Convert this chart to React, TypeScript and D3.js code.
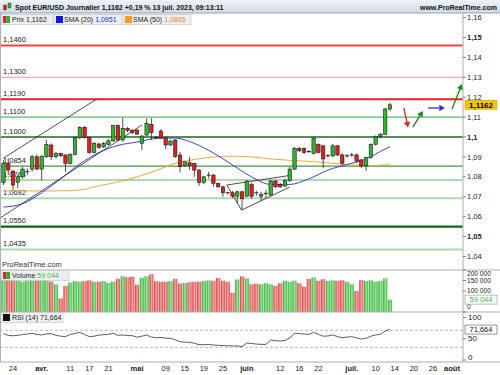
import { useEffect, useRef } from 'react'
import * as d3 from 'd3'

// candle data, index -2 = 22 mars ... 79 = 13 juil.
const firstIndex = -2
const opens = [1.0772, 1.0868, 1.0829, 1.0773, 1.0800, 1.0824, 1.0839, 1.0901, 1.0839, 1.0901, 1.0960, 1.0901, 1.0918, 1.0910, 1.0868, 1.0913, 1.0997, 1.1049, 1.0997, 1.0923, 1.0965, 1.0950, 1.0963, 1.0981, 1.1057, 1.0985, 1.1044, 1.1034, 1.1035, 1.0968, 1.1010, 1.1064, 1.1000, 1.1030, 1.0997, 1.0960, 1.0985, 1.0910, 1.0856, 1.0871, 1.0868, 1.0834, 1.0772, 1.0807, 1.0809, 1.0767, 1.0750, 1.0721, 1.0720, 1.0703, 1.0725, 1.0703, 1.0762, 1.0721, 1.0703, 1.0716, 1.0709, 1.0779, 1.0762, 1.0754, 1.0781, 1.0839, 1.0943, 1.0943, 1.0928, 1.0918, 1.0963, 1.0956, 1.0905, 1.0905, 1.0956, 1.0910, 1.0905, 1.0909, 1.0910, 1.0885, 1.0855, 1.0897, 1.0963, 1.1002, 1.1014, 1.1141]
const highs = [1.0884, 1.0894, 1.0834, 1.0809, 1.0849, 1.0843, 1.0910, 1.0913, 1.0908, 1.0985, 1.0968, 1.0926, 1.0921, 1.0913, 1.0918, 1.1002, 1.1055, 1.1055, 1.1002, 1.0975, 1.0972, 1.0975, 1.0990, 1.1062, 1.1064, 1.1097, 1.1050, 1.1040, 1.1040, 1.1010, 1.1094, 1.1094, 1.1005, 1.1040, 1.1002, 1.0985, 1.0990, 1.0925, 1.0880, 1.0900, 1.0871, 1.0840, 1.0805, 1.0825, 1.0815, 1.0770, 1.0755, 1.0725, 1.0730, 1.0730, 1.0730, 1.0785, 1.0770, 1.0730, 1.0725, 1.0734, 1.0785, 1.0785, 1.0770, 1.0790, 1.0850, 1.0950, 1.0950, 1.0948, 1.0935, 1.1002, 1.0968, 1.0960, 1.0915, 1.0965, 1.0960, 1.0920, 1.0915, 1.0920, 1.0918, 1.0890, 1.0900, 1.0968, 1.1008, 1.1020, 1.1145, 1.1172]
const lows = [1.0759, 1.0809, 1.0734, 1.0744, 1.0790, 1.0809, 1.0826, 1.0834, 1.0784, 1.0895, 1.0885, 1.0893, 1.0900, 1.0826, 1.0863, 1.0908, 1.0990, 1.0992, 1.0915, 1.0918, 1.0940, 1.0945, 1.0958, 1.0975, 1.0980, 1.0978, 1.1025, 1.1015, 1.1010, 1.0935, 1.1005, 1.0985, 1.0990, 1.0990, 1.0940, 1.0955, 1.0895, 1.0822, 1.0850, 1.0834, 1.0800, 1.0755, 1.0765, 1.0792, 1.0750, 1.0745, 1.0700, 1.0712, 1.0695, 1.0667, 1.0634, 1.0700, 1.0690, 1.0705, 1.0680, 1.0695, 1.0705, 1.0745, 1.0745, 1.0748, 1.0775, 1.0835, 1.0925, 1.0915, 1.0920, 1.0912, 1.0918, 1.0843, 1.0898, 1.0900, 1.0905, 1.0860, 1.0895, 1.0900, 1.0870, 1.0845, 1.0830, 1.0892, 1.0958, 1.0995, 1.1010, 1.1130]
const closes = [1.0868, 1.0834, 1.0759, 1.0800, 1.0839, 1.0828, 1.0901, 1.0839, 1.0904, 1.0963, 1.0901, 1.0918, 1.0906, 1.0868, 1.0913, 1.0997, 1.1049, 1.0997, 1.0923, 1.0968, 1.0948, 1.0968, 1.0981, 1.1057, 1.0985, 1.1044, 1.1033, 1.1022, 1.1015, 1.1005, 1.1069, 1.1022, 1.0996, 1.0997, 1.0960, 1.0980, 1.0902, 1.0851, 1.0876, 1.0856, 1.0834, 1.0772, 1.0800, 1.0810, 1.0767, 1.0750, 1.0720, 1.0719, 1.0703, 1.0725, 1.0690, 1.0778, 1.0703, 1.0719, 1.0712, 1.0718, 1.0779, 1.0750, 1.0750, 1.0783, 1.0839, 1.0943, 1.0931, 1.0923, 1.0926, 1.0994, 1.0923, 1.0890, 1.0907, 1.0956, 1.0910, 1.0868, 1.0907, 1.0911, 1.0880, 1.0855, 1.0897, 1.0963, 1.1002, 1.1014, 1.1141, 1.1162]
const volumes = [165000, 160000, 170000, 150000, 145000, 150000, 155000, 150000, 150000, 160000, 145000, 132000, 65000, 125000, 140000, 147000, 144000, 147000, 151000, 144000, 144000, 147000, 138000, 144000, 158000, 170000, 166000, 168000, 130000, 163000, 170000, 180000, 147000, 144000, 144000, 147000, 158000, 136000, 138000, 142000, 144000, 144000, 147000, 151000, 149000, 162000, 149000, 144000, 92000, 155000, 170000, 160000, 132000, 135000, 132000, 137000, 132000, 125000, 137000, 149000, 144000, 149000, 137000, 121000, 157000, 165000, 149000, 156000, 148000, 151000, 149000, 151000, 144000, 132000, 100000, 152000, 148000, 151000, 144000, 148000, 160000, 59044]
const rsi = [62, 58, 57, 58, 60, 61, 62.5, 60, 59, 61.5, 62, 58, 56, 55, 60, 62.5, 65, 60, 55, 56, 58.5, 59.5, 60.4, 62.7, 58, 58.8, 57.5, 57.2, 53.5, 56, 58.8, 54, 52.5, 53, 51.5, 51, 47.5, 43, 42, 41.5, 39.5, 36, 36, 36.5, 35.3, 34.5, 34, 33.5, 33, 33.2, 31.4, 40, 39, 37.5, 36.8, 36.8, 47, 45.5, 44.7, 46, 52, 62.7, 62, 61.2, 60.4, 65, 60.4, 56, 56.5, 58.8, 55, 52.5, 54, 54.9, 52, 49.4, 51, 56, 59, 60.4, 68.2, 71.664]

// moving averages at sample candles
const smaIndex = [-2, 2, 6, 10, 14, 18, 22, 26, 30, 34, 38, 42, 46, 50, 54, 58, 62, 66, 70, 74, 78, 79]
const sma20 = [1.0648, 1.0665, 1.0720, 1.0790, 1.0865, 1.0922, 1.0958, 1.0975, 1.0993, 1.0995, 1.0968, 1.0920, 1.0860, 1.0800, 1.0762, 1.0762, 1.0790, 1.0834, 1.0862, 1.0890, 1.0940, 1.0951]
const sma50 = [1.0729, 1.0729, 1.0729, 1.0730, 1.0734, 1.0755, 1.0775, 1.0800, 1.0832, 1.0868, 1.0887, 1.0900, 1.0904, 1.0900, 1.0890, 1.0883, 1.0878, 1.0870, 1.0862, 1.0856, 1.0860, 1.0865]

// horizontal levels
const levels = [1.146, 1.13, 1.119, 1.11, 1.1, 1.0854, 1.0784, 1.0692, 1.055, 1.0435]
const levelLabels = ['1,1460', '1,1300', '1,1190', '1,1100', '1,1000', '1,0854', '1,0784', '1,0692', '1,0550', '1,0435']
const levelColors = ['#ff3a3a', '#ff9a9a', '#ee1f1f', '#62b862', '#1c6a1c', '#32a532', '#acdbac', '#acdbac', '#0c6a0c', '#acdbac']
const levelWidths = [2, 1, 2, 1.2, 1.5, 1.2, 2, 2, 2.2, 2]

// drawn trend lines [index, price]
const trendLines = [
  [[-2, 1.0894], [17.5, 1.1190]],
  [[-2.7, 1.0593], [27, 1.1060]],
  [[44.8, 1.0759], [58, 1.0807]],
  [[44.8, 1.0759], [47.9, 1.0633]],
  [[47.9, 1.0633], [58, 1.0749]],
]
// arrows [start, end], [index, price]
const arrows = [
  [[81.9, 1.1146], [82.8, 1.1048]],
  [[83.8, 1.1050], [85.9, 1.1131]],
  [[87.0, 1.1146], [90.5, 1.1146]],
  [[92.0, 1.1141], [94.1, 1.1266]],
]
const arrowColors = ['#f01c1c', '#128a12', '#2a2af0', '#128a12']

const priceTicks = [1.16, 1.15, 1.14, 1.13, 1.12, 1.11, 1.1, 1.09, 1.08, 1.07, 1.06, 1.05, 1.04]
const volTicks = [200000, 150000, 100000, 0]
const rsiTicks = [100, 50, 0]
const dateIndex = [0, 6, 12, 16, 20, 26, 32, 36, 40, 44, 49, 56, 60, 64, 71, 76, 80, 84, 88, 92]
const dateLabels = ['24', 'avr.', '11', '17', '21', 'mai', '09', '15', '19', '25', 'juin', '12', '16', '22', 'juil.', '10', '14', '20', '26', 'août']
const monthLabels = ['avr.', 'mai', 'juin', 'juil.', 'août']

const W = 500
const H = 375
const AXIS_X = 463
const FONT = 'Liberation Sans, Arial, sans-serif'

const fmt = (v: number, d: number) => v.toFixed(d).replace('.', ',')
const fmtVol = (v: number) => d3.format(',')(v).replace(/,/g, ' ')

function App() {
  const ref = useRef<SVGSVGElement>(null)

  useEffect(() => {
    const svg = d3.select(ref.current)
    svg.selectAll('*').remove()

    const x = d3.scaleLinear().domain([0, 92]).range([13, 452])
    const y = d3.scaleLinear().domain([1.04, 1.15]).range([256.5, 37.5])
    const yVol = d3.scaleLinear().domain([0, 200000]).range([312, 270])
    const yRsi = d3.scaleLinear().domain([0, 100]).range([360, 317.5])

    const defs = svg.append('defs')
    const grad = (id: string, stops: string[], vertical = false) => {
      const g = defs.append('linearGradient').attr('id', id)
        .attr('x1', 0).attr('y1', 0).attr('x2', vertical ? 0 : 1).attr('y2', vertical ? 1 : 0)
      stops.forEach((c, i) => g.append('stop').attr('offset', i / (stops.length - 1)).attr('stop-color', c))
    }
    grad('vg', ['#2aa92a', '#9fe29f', '#3dbd3d'])
    grad('vr', ['#d43838', '#f5a5a5', '#e04a4a'])
    grad('title', ['#eef3f7', '#cfdae4'], true)
    defs.append('clipPath').attr('id', 'main')
      .append('rect').attr('x', 0).attr('y', 13).attr('width', AXIS_X).attr('height', 257)

    svg.append('rect').attr('width', W).attr('height', H).attr('fill', '#fff')

    const main = svg.append('g').attr('clip-path', 'url(#main)')

    // levels
    levels.forEach((lv, i) => {
      main.append('line')
        .attr('x1', 0).attr('x2', AXIS_X)
        .attr('y1', y(lv)).attr('y2', y(lv))
        .attr('stroke', levelColors[i]).attr('stroke-width', levelWidths[i])
      main.append('text')
        .attr('x', 3).attr('y', y(lv) - 3.5)
        .text(levelLabels[i])
        .style('font-family', FONT).style('font-size', '7.5px').style('fill', '#222')
    })

    // moving averages
    const line = d3.line<[number, number]>()
      .x(d => x(d[0])).y(d => y(d[1])).curve(d3.curveMonotoneX)
    main.append('path')
      .datum(smaIndex.map((k, i) => [k, sma50[i]] as [number, number]))
      .attr('d', line).attr('fill', 'none').attr('stroke', '#ffa42e').attr('stroke-width', 1)
    main.append('path')
      .datum(smaIndex.map((k, i) => [k, sma20[i]] as [number, number]))
      .attr('d', line).attr('fill', 'none').attr('stroke', '#3c3cf0').attr('stroke-width', 1)

    // trend lines
    trendLines.forEach(seg => {
      main.append('line')
        .attr('x1', x(seg[0][0])).attr('y1', y(seg[0][1]))
        .attr('x2', x(seg[1][0])).attr('y2', y(seg[1][1]))
        .attr('stroke', '#222').attr('stroke-width', 0.8)
    })

    // candles
    const bw = 3.4
    opens.forEach((o, i) => {
      const k = i + firstIndex
      const c = closes[i]
      const cx = x(k)
      main.append('line')
        .attr('x1', cx).attr('x2', cx)
        .attr('y1', y(highs[i])).attr('y2', y(lows[i]))
        .attr('stroke', '#222').attr('stroke-width', 0.8)
      if (Math.abs(o - c) < 0.0005) {
        main.append('line')
          .attr('x1', cx - bw / 2 - 0.3).attr('x2', cx + bw / 2 + 0.3)
          .attr('y1', y((o + c) / 2)).attr('y2', y((o + c) / 2))
          .attr('stroke', '#222').attr('stroke-width', 1)
      } else {
        main.append('rect')
          .attr('x', cx - bw / 2).attr('width', bw)
          .attr('y', y(Math.max(o, c))).attr('height', Math.abs(y(o) - y(c)))
          .attr('fill', c > o ? '#2fb52f' : '#e21e1e')
          .attr('stroke', '#1e1e1e').attr('stroke-width', 0.6)
      }
    })

    // arrows
    arrows.forEach((a, i) => {
      const x1 = x(a[0][0]), y1 = y(a[0][1]), x2 = x(a[1][0]), y2 = y(a[1][1])
      const ang = Math.atan2(y2 - y1, x2 - x1)
      const hl = 5.5, hw = 3.2
      const bx = x2 - hl * Math.cos(ang), by = y2 - hl * Math.sin(ang)
      main.append('line')
        .attr('x1', x1).attr('y1', y1).attr('x2', bx).attr('y2', by)
        .attr('stroke', arrowColors[i]).attr('stroke-width', 1.3)
      main.append('path')
        .attr('d', `M${x2},${y2}L${bx + hw * Math.sin(ang)},${by - hw * Math.cos(ang)}L${bx - hw * Math.sin(ang)},${by + hw * Math.cos(ang)}Z`)
        .attr('fill', arrowColors[i])
    })

    main.append('text')
      .attr('x', 2).attr('y', 267)
      .text('ProRealTime.com')
      .style('font-family', FONT).style('font-size', '7.5px').style('fill', '#333')

    // volume
    volumes.forEach((v, i) => {
      const k = i + firstIndex
      svg.append('rect')
        .attr('x', x(k) - 2.1).attr('width', 4.2)
        .attr('y', yVol(v)).attr('height', yVol(0) - yVol(v))
        .attr('fill', closes[i] >= opens[i] ? 'url(#vg)' : 'url(#vr)')
    })

    // rsi
    ;[70, 30].forEach(l => {
      svg.append('line')
        .attr('x1', 0).attr('x2', AXIS_X).attr('y1', yRsi(l)).attr('y2', yRsi(l))
        .attr('stroke', '#999').attr('stroke-width', 0.7).attr('stroke-dasharray', '3,2')
    })
    svg.append('path')
      .datum(rsi.map((r, i) => [i + firstIndex, r] as [number, number]))
      .attr('d', d3.line<[number, number]>().x(d => x(d[0])).y(d => yRsi(d[1])))
      .attr('fill', 'none').attr('stroke', '#333').attr('stroke-width', 0.8)

    // panel frames
    const grid = '#a9b1b9'
    ;[270, 312, 362].forEach(py => {
      svg.append('line').attr('x1', 0).attr('x2', W).attr('y1', py).attr('y2', py)
        .attr('stroke', grid).attr('stroke-width', 1)
    })
    svg.append('line').attr('x1', AXIS_X).attr('x2', AXIS_X).attr('y1', 13).attr('y2', 362)
      .attr('stroke', grid).attr('stroke-width', 1)
    svg.append('line').attr('x1', 0.5).attr('x2', 0.5).attr('y1', 13).attr('y2', 362)
      .attr('stroke', grid).attr('stroke-width', 1)

    const label = (tx: number, ty: number, t: string, opts: any = {}) =>
      svg.append('text').attr('x', tx).attr('y', ty).text(t)
        .attr('text-anchor', opts.anchor || 'start')
        .style('font-family', FONT).style('font-size', (opts.size || 7) + 'px')
        .style('font-weight', opts.bold ? 'bold' : 'normal')
        .style('fill', opts.color || '#222')

    const tick = (ty: number) => svg.append('line')
      .attr('x1', AXIS_X).attr('x2', AXIS_X + 3).attr('y1', ty).attr('y2', ty)
      .attr('stroke', '#666').attr('stroke-width', 0.8)

    // price axis
    priceTicks.forEach(t => {
      const bold = Math.round(t * 100) % 5 === 0 && t !== 1.16
      const txt = Math.round(t * 100) % 10 === 0 ? fmt(t, 1) : fmt(t, 2)
      tick(y(t))
      label(AXIS_X + 4, y(t) + 2.6, txt, { bold, size: 7.5 })
    })

    // volume axis, labels pushed apart so they do not collide
    let prevY = -Infinity
    volTicks.forEach(t => {
      let ty = Math.min(Math.max(yVol(t), 273.5), 307)
      ty = Math.max(ty, prevY + 7.6)
      prevY = ty
      tick(yVol(t))
      label(AXIS_X + 4, ty + 2.3, fmtVol(t), { size: 6.6 })
    })
    // rsi axis
    rsiTicks.forEach(t => {
      const ty = Math.min(Math.max(yRsi(t), 317), 357.5)
      tick(yRsi(t))
      label(AXIS_X + 5, ty + 2.6, String(t), { size: 8 })
    })

    // value tags
    const lastClose = closes[closes.length - 1]
    svg.append('rect').attr('x', 465).attr('y', y(lastClose) - 4.5).attr('width', 32).attr('height', 9)
      .attr('fill', '#f8c400').attr('stroke', '#c99a00').attr('stroke-width', 0.5)
    label(481, y(lastClose) + 2.9, fmt(lastClose, 4), { bold: true, anchor: 'middle', size: 8, color: '#000' })

    const lastVol = volumes[volumes.length - 1]
    svg.append('rect').attr('x', 465).attr('y', yVol(lastVol) - 4.5).attr('width', 32).attr('height', 9)
      .attr('fill', '#fff').attr('stroke', '#8a9096').attr('stroke-width', 0.6)
    label(481, yVol(lastVol) + 2.6, fmtVol(lastVol), { anchor: 'middle', size: 7.5, color: '#45b845' })

    const lastRsi = rsi[rsi.length - 1]
    svg.append('rect').attr('x', 465).attr('y', yRsi(lastRsi) - 4.5).attr('width', 32).attr('height', 9)
      .attr('fill', '#fff').attr('stroke', '#555').attr('stroke-width', 0.6)
    label(481, yRsi(lastRsi) + 2.6, fmt(lastRsi, 3), { anchor: 'middle', size: 7.5, color: '#111' })

    // date axis
    dateIndex.forEach((k, i) => {
      const t = dateLabels[i]
      label(x(k), 371, t, { anchor: 'middle', bold: monthLabels.includes(t), size: 7.5 })
    })

    // title bar
    svg.append('rect').attr('x', 0).attr('y', 0).attr('width', W).attr('height', 13)
      .attr('fill', 'url(#title)')
    svg.append('line').attr('x1', 0).attr('x2', W).attr('y1', 13).attr('y2', 13)
      .attr('stroke', '#9aa6b2').attr('stroke-width', 1)
    svg.append('rect').attr('x', 3.5).attr('y', 5).attr('width', 3).attr('height', 5).attr('fill', '#e02020').attr('stroke', '#333').attr('stroke-width', 0.4)
    svg.append('rect').attr('x', 8).attr('y', 3).attr('width', 3).attr('height', 5).attr('fill', '#2fb52f').attr('stroke', '#333').attr('stroke-width', 0.4)
    label(15, 9.8, 'Spot EUR/USD Journalier 1,1162 +0,19 % 13 juil. 2023, 09:13:11', { bold: true, size: 7, color: '#111' })
    label(497, 9.8, 'www.ProRealTime.com', { bold: true, anchor: 'end', size: 7, color: '#111' })

    // legends
    const legendBox = (bx: number, by: number, bwid: number) =>
      svg.append('rect').attr('x', bx).attr('y', by).attr('width', bwid).attr('height', 10)
        .attr('fill', '#eceff1').attr('stroke', '#b9c0c6').attr('stroke-width', 0.6)
    const splitIcon = (ix: number, iy: number) => {
      svg.append('rect').attr('x', ix).attr('y', iy).attr('width', 3.5).attr('height', 7).attr('fill', '#d42a2a')
      svg.append('rect').attr('x', ix + 3.5).attr('y', iy).attr('width', 3.5).attr('height', 7).attr('fill', '#2fae2f')
    }
    const sq = (ix: number, iy: number, c: string) =>
      svg.append('rect').attr('x', ix).attr('y', iy).attr('width', 7).attr('height', 7).attr('fill', c)
    const legendText = (tx: number, ty: number, name: string, value: string, color: string) => {
      const t = label(tx, ty, '', { size: 7 })
      t.append('tspan').text(name + ' ')
      t.append('tspan').text(value).style('fill', color)
      return t
    }

    legendBox(1, 14.5, 52); splitIcon(3, 16)
    legendText(12, 22.2, 'Prix', fmt(lastClose, 4), '#222')
    legendBox(54, 14.5, 68); sq(56, 16, '#1414f0')
    legendText(64, 22.2, 'SMA (20)', fmt(sma20[sma20.length - 1], 4), '#2424f0')
    legendBox(123, 14.5, 68); sq(125, 16, '#ff9a1e')
    legendText(133, 22.2, 'SMA (50)', fmt(sma50[sma50.length - 1], 4), '#f08a10')

    legendBox(1, 270.5, 68); splitIcon(3, 272)
    legendText(12, 278.2, 'Volume', fmtVol(lastVol), '#45b845')

    legendBox(1, 312.5, 62); sq(3, 314, '#111')
    legendText(12, 320.2, 'RSI (14)', fmt(lastRsi, 3), '#222')
  }, [])

  return (
    <svg ref={ref} width={W} height={H}
      style={{ position: 'absolute', left: 0, top: 0, display: 'block' }} />
  )
}

export default App
